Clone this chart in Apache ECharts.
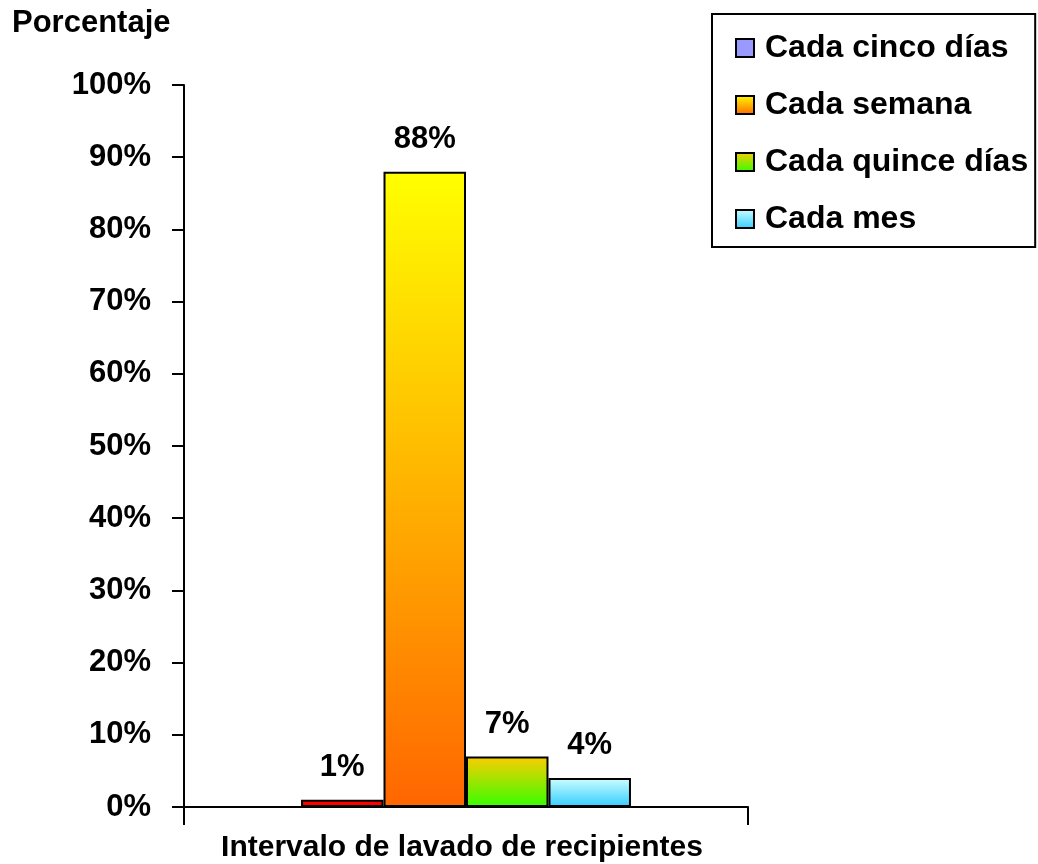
<!DOCTYPE html>
<html>
<head>
<meta charset="utf-8">
<script src="https://cdn.jsdelivr.net/npm/echarts@6/dist/echarts.min.js"></script>
<style>
html,body{margin:0;padding:0;background:#fff;}
#chart{width:1038px;height:864px;}
</style>
</head>
<body>
<div id="chart"></div>
<script>
var categories = ['Intervalo de lavado de recipientes'];
var seriesNames = ['Cada cinco días', 'Cada semana', 'Cada quince días', 'Cada mes'];
var seriesValues = [[1], [88], [7], [4]];
var yTicks = ['0%', '10%', '20%', '30%', '40%', '50%', '60%', '70%', '80%', '90%', '100%'];

var FONT = '"Liberation Sans", Arial, sans-serif';
function grad(top, bottom) {
  return new echarts.graphic.LinearGradient(0, 0, 0, 1, [
    {offset: 0, color: top}, {offset: 1, color: bottom}
  ]);
}
var fills = [
  '#FF0000',
  grad('#FFFF00', '#FF6600'),
  grad('#FFCC00', '#33FF00'),
  grad('#CCFFFF', '#33CCFF')
];
var legendFills = ['#9999FF', fills[1], fills[2], fills[3]];

var chart = echarts.init(document.getElementById('chart'), null, {renderer: 'canvas'});
var option = {
  animation: false,
  backgroundColor: '#ffffff',
  title: {
    text: 'Porcentaje',
    left: 12, top: 8, padding: 0,
    textStyle: {fontFamily: FONT, fontSize: 31, fontWeight: 'bold', color: '#000'}
  },
  legend: {
    orient: 'vertical',
    left: 712, top: 14,
    padding: [18, 7, 12, 23],
    borderColor: '#000', borderWidth: 2,
    itemWidth: 18, itemHeight: 18, itemGap: 25,
    icon: 'rect',
    textStyle: {fontFamily: FONT, fontSize: 32, fontWeight: 'bold', color: '#000', lineHeight: 32, padding: [0, 0, 0, 6]},
    data: seriesNames.map(function (n, i) {
      return {name: n, itemStyle: {color: legendFills[i], borderColor: '#000', borderWidth: 2}};
    })
  },
  grid: {left: 184, right: 290, top: 85, bottom: 57, containLabel: false, outerBoundsMode: 'none'},
  xAxis: {
    type: 'category',
    data: categories,
    boundaryGap: true,
    axisLine: {lineStyle: {color: '#000', width: 2}},
    axisTick: {show: true, length: 18, lineStyle: {color: '#000', width: 2}},
    axisLabel: {fontFamily: FONT, fontSize: 30, fontWeight: 'bold', color: '#000', margin: 26, padding: [0, 8, 0, 0]}
  },
  yAxis: {
    type: 'value',
    min: 0, max: 100, interval: 10,
    axisLine: {show: true, lineStyle: {color: '#000', width: 2}},
    axisTick: {show: true, length: 12, lineStyle: {color: '#000', width: 2}},
    splitLine: {show: false},
    axisLabel: {
      fontFamily: FONT, fontSize: 31, fontWeight: 'bold', color: '#000', margin: 33,
      formatter: function (v) { return yTicks[Math.round(v / 10)]; }
    }
  },
  series: seriesNames.map(function (n, i) {
    return {
      name: n,
      type: 'bar',
      data: seriesValues[i],
      barGap: '0%',
      barCategoryGap: '41.5%',
      itemStyle: {color: fills[i], borderColor: '#000', borderWidth: 2},
      label: {
        show: true, position: 'top', distance: 17,
        fontFamily: FONT, fontSize: 31, fontWeight: 'bold', color: '#000',
        formatter: '{c}%'
      }
    };
  })
};
chart.setOption(option);
</script>
</body>
</html>
